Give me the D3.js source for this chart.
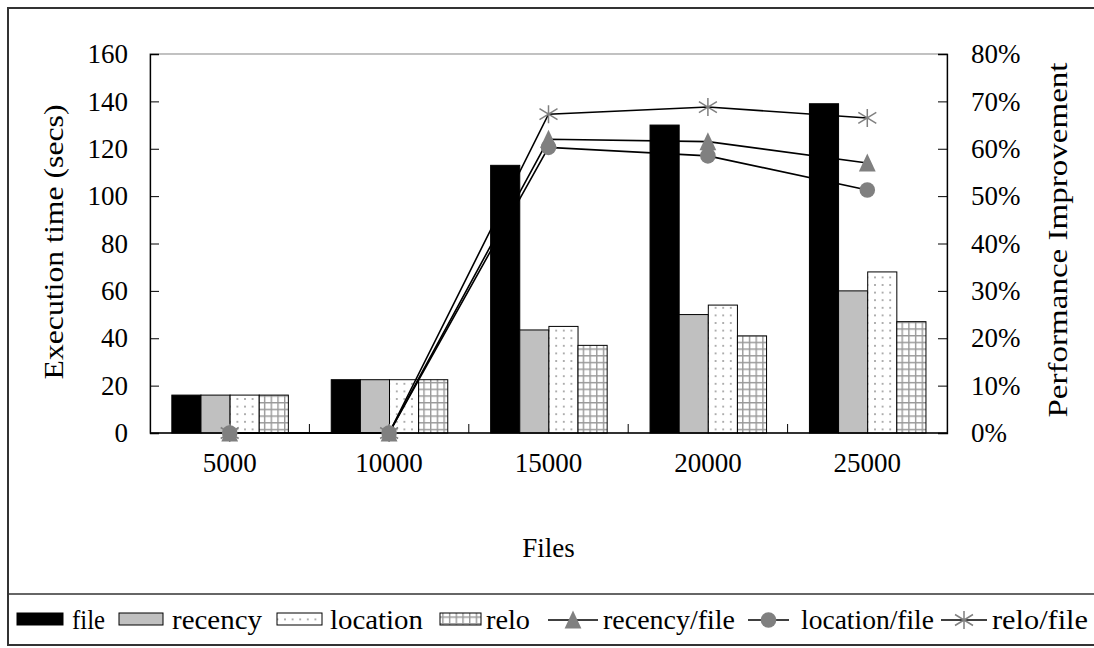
<!DOCTYPE html>
<html lang="en">
<head>
    <meta charset="UTF-8">
    <title>Execution time vs files</title>
    <style>
        * {
            margin: 0;
            padding: 0;
            box-sizing: border-box;
        }
        body {
            background: #fff;
        }
    </style>
    <script src="https://unpkg.com/d3@7.6.1/dist/d3.min.js"></script>
    <script>
        // values
        const files = ["5000", "10000", "15000", "20000", "25000"];
        const fileTime = [16, 22.5, 113, 130, 139];
        const recencyTime = [16, 22.5, 43.5, 50, 60];
        const locationTime = [16, 22.5, 45, 54, 68];
        const reloTime = [16, 22.5, 37, 41, 47];
        const recencyImp = [0, 0, 0.62, 0.615, 0.57];
        const locationImp = [0, 0, 0.603, 0.585, 0.513];
        const reloImp = [0, 0, 0.673, 0.688, 0.665];
        const leftTicks = [0, 20, 40, 60, 80, 100, 120, 140, 160];
        const rightTicks = [0, 0.1, 0.2, 0.3, 0.4, 0.5, 0.6, 0.7, 0.8];
    </script>
</head>
<body>
    <div id="chart"></div>
    <script>
        const width = 1094;
        const height = 648;
        const marginTop = 54;
        const marginLeft = 150;
        const plotRight = 947;
        const plotBottom = 433;
        const fontSize = 27;

        const barSeries = [
            {name: "file", values: fileTime, fill: "#000"},
            {name: "recency", values: recencyTime, fill: "#c0c0c0"},
            {name: "location", values: locationTime, fill: "url(#dots)"},
            {name: "relo", values: reloTime, fill: "url(#grid)"}
        ];
        const lineSeries = [
            {name: "recency/file", values: recencyImp, symbol: "triangle"},
            {name: "location/file", values: locationImp, symbol: "circle"},
            {name: "relo/file", values: reloImp, symbol: "star"}
        ];
        // legend layout: [swatch x, swatch width, text x, text length]
        const legendBars = [[17, 46, 72, 33], [119, 44, 172, 90], [277, 45, 330, 93], [440, 41, 486, 44]];
        const legendLines = [[548, 50, 603, 132], [748, 41, 801, 133], [941, 46, 992, 96]];

        const xScale = d3.scaleBand(files, [marginLeft, plotRight]);
        const bw = xScale.bandwidth();
        const x1 = d3.scaleBand(barSeries.map(d => d.name), [bw * 0.137, bw * 0.868]);
        const yScale = d3.scaleLinear([0, 160], [plotBottom, marginTop]);
        const y2Scale = d3.scaleLinear([0, 0.8], [plotBottom, marginTop]);

        const svg = d3.select("#chart").append("svg")
            .attr("width", width)
            .attr("height", height)
            .attr("font-family", "'Liberation Serif', 'Times New Roman', 'DejaVu Serif', serif");

        const defs = svg.append("defs");
        const dots = defs.append("pattern")
            .attr("id", "dots").attr("patternUnits", "userSpaceOnUse")
            .attr("width", 7.6).attr("height", 7.6);
        dots.append("rect").attr("width", 7.6).attr("height", 7.6).attr("fill", "#fff");
        dots.append("circle").attr("cx", 3.8).attr("cy", 3.8).attr("r", 0.9).attr("fill", "#888");
        const grid = defs.append("pattern")
            .attr("id", "grid").attr("patternUnits", "userSpaceOnUse")
            .attr("width", 6.7).attr("height", 6.7);
        grid.append("rect").attr("width", 6.7).attr("height", 6.7).attr("fill", "#fff");
        grid.append("path").attr("d", "M0,0.7H6.7M0.7,0V6.7")
            .attr("stroke", "#999").attr("stroke-width", 1.4).attr("fill", "none");

        // outer frame and legend strip
        svg.append("rect")
            .attr("x", 8).attr("y", 8).attr("width", 1100).attr("height", 637)
            .attr("fill", "none").attr("stroke", "#333").attr("stroke-width", 2);
        svg.append("line")
            .attr("x1", 8).attr("x2", width).attr("y1", 594).attr("y2", 594)
            .attr("stroke", "#333").attr("stroke-width", 1.5);

        // plot area border
        svg.append("rect")
            .attr("x", marginLeft).attr("y", marginTop)
            .attr("width", plotRight - marginLeft).attr("height", plotBottom - marginTop)
            .attr("fill", "none").attr("stroke", "#999").attr("stroke-width", 1.2);

        // bars
        const groups = svg.append("g")
            .selectAll("g")
            .data(files)
            .join("g")
              .attr("transform", d => `translate(${xScale(d)},0)`);
        groups.selectAll("rect")
            .data((d, i) => barSeries.map(s => ({name: s.name, fill: s.fill, value: s.values[i]})))
            .join("rect")
              .attr("x", d => x1(d.name))
              .attr("y", d => yScale(d.value))
              .attr("width", x1.bandwidth())
              .attr("height", d => yScale(0) - yScale(d.value))
              .attr("fill", d => d.fill)
              .attr("stroke", "#000")
              .attr("stroke-width", 1);

        // axes
        const yAxis = d3.axisRight(yScale).tickValues(leftTicks).tickSize(9).tickFormat("");
        svg.append("g")
            .attr("transform", `translate(${marginLeft},0)`)
            .call(yAxis)
            .call(g => g.select(".domain").attr("stroke", "#000").attr("stroke-width", 1.3));
        svg.append("g")
            .selectAll("text")
            .data(leftTicks)
            .join("text")
              .attr("x", 128)
              .attr("y", d => yScale(d))
              .attr("dy", "0.34em")
              .attr("text-anchor", "end")
              .attr("font-size", fontSize)
              .text(d => d);

        const y2Axis = d3.axisLeft(y2Scale).tickValues(rightTicks).tickSize(9).tickFormat("");
        svg.append("g")
            .attr("transform", `translate(${plotRight},0)`)
            .call(y2Axis)
            .call(g => g.select(".domain").attr("stroke", "#000").attr("stroke-width", 1.3));
        svg.append("g")
            .selectAll("text")
            .data(rightTicks)
            .join("text")
              .attr("x", 971)
              .attr("y", d => y2Scale(d))
              .attr("dy", "0.34em")
              .attr("font-size", fontSize)
              .text(d3.format(".0%"));

        svg.append("line")
            .attr("x1", marginLeft).attr("x2", plotRight)
            .attr("y1", plotBottom).attr("y2", plotBottom)
            .attr("stroke", "#000").attr("stroke-width", 1.3);
        svg.append("g")
            .selectAll("line")
            .data(files.slice(1))
            .join("line")
              .attr("x1", d => xScale(d)).attr("x2", d => xScale(d))
              .attr("y1", plotBottom).attr("y2", plotBottom - 9)
              .attr("stroke", "#000");
        svg.append("g")
            .selectAll("text")
            .data(files)
            .join("text")
              .attr("x", d => xScale(d) + bw / 2)
              .attr("y", 472)
              .attr("text-anchor", "middle")
              .attr("font-size", fontSize)
              .text(d => d);

        // axis titles
        svg.append("text")
            .attr("x", (marginLeft + plotRight) / 2).attr("y", 557)
            .attr("text-anchor", "middle").attr("font-size", fontSize)
            .text("Files");
        svg.append("text")
            .attr("transform", "translate(63,242) rotate(-90)")
            .attr("text-anchor", "middle").attr("font-size", 28)
            .attr("textLength", 275).attr("lengthAdjust", "spacingAndGlyphs")
            .text("Execution time (secs)");
        svg.append("text")
            .attr("transform", "translate(1067,240) rotate(-90)")
            .attr("text-anchor", "middle").attr("font-size", 28)
            .attr("textLength", 355).attr("lengthAdjust", "spacingAndGlyphs")
            .text("Performance Improvement");

        // improvement lines
        const cx = d => xScale(d) + bw / 2;
        const line = d3.line().x((d, i) => cx(files[i])).y(d => y2Scale(d));
        svg.append("g")
            .selectAll("path")
            .data(lineSeries)
            .join("path")
              .attr("d", d => line(d.values))
              .attr("fill", "none")
              .attr("stroke", "#000")
              .attr("stroke-width", 1.6);

        function drawMarker(g, symbol) {
            if (symbol === "star") {
                g.append("path")
                    .attr("d", "M0,-9V9M-9,-5.5L9,5.5M-9,5.5L9,-5.5")
                    .attr("stroke", "#808080").attr("stroke-width", 1.5).attr("fill", "none");
            } else if (symbol === "triangle") {
                g.append("path")
                    .attr("d", "M0,-9.5L8.4,8.5L-8.4,8.5Z")
                    .attr("fill", "#808080");
            } else {
                g.append("circle").attr("r", 7.8).attr("fill", "#808080");
            }
        }
        lineSeries.forEach(s => {
            s.values.forEach((v, i) => {
                const g = svg.append("g").attr("transform", `translate(${cx(files[i])},${y2Scale(v)})`);
                drawMarker(g, s.symbol);
            });
        });

        // legend
        const legend = svg.append("g");
        const ly = 619;
        barSeries.forEach((s, i) => {
            const [sx, sw, tx, tl] = legendBars[i];
            legend.append("rect")
                .attr("x", sx).attr("y", ly - 6).attr("width", sw).attr("height", 12)
                .attr("fill", s.fill).attr("stroke", "#000").attr("stroke-width", 1);
            legend.append("text")
                .attr("x", tx).attr("y", ly + 10)
                .attr("font-size", 28)
                .attr("textLength", tl).attr("lengthAdjust", "spacingAndGlyphs")
                .text(s.name);
        });
        lineSeries.forEach((s, i) => {
            const [sx, sw, tx, tl] = legendLines[i];
            legend.append("line")
                .attr("x1", sx).attr("x2", sx + sw).attr("y1", ly + 1).attr("y2", ly + 1)
                .attr("stroke", "#000").attr("stroke-width", 1.6);
            const g = legend.append("g").attr("transform", `translate(${sx + sw / 2},${ly + 1})`);
            drawMarker(g, s.symbol);
            legend.append("text")
                .attr("x", tx).attr("y", ly + 10)
                .attr("font-size", 28)
                .attr("textLength", tl).attr("lengthAdjust", "spacingAndGlyphs")
                .text(s.name);
        });
    </script>
</body>
</html>
